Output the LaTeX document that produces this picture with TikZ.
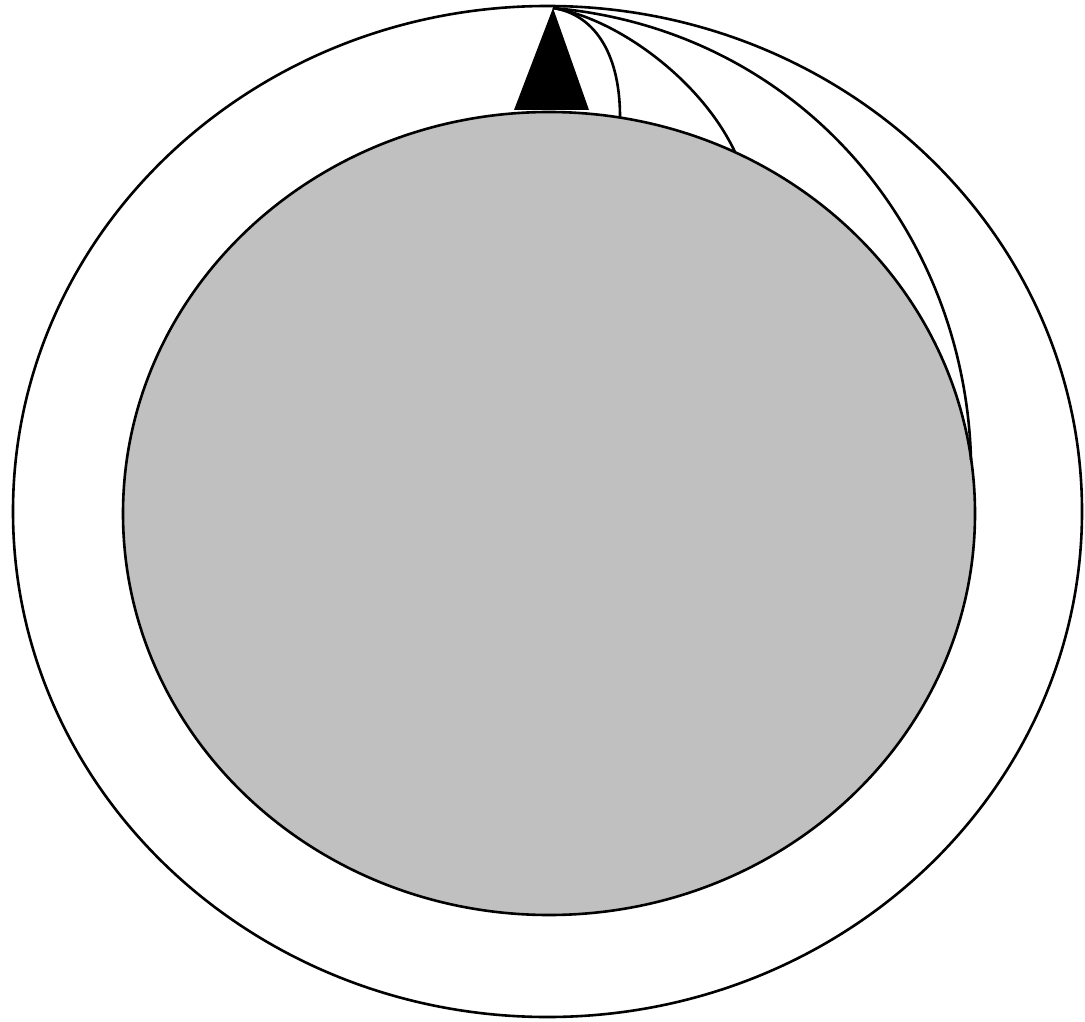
\documentclass[tikz,border=0pt]{standalone}
\definecolor{discgray}{HTML}{C0C0C0}
\begin{document}
\begin{tikzpicture}[x=0.5pt,y=-0.5pt,
  outline/.style={draw=black,line width=1.3pt},
  wire/.style={draw=black,line width=1.3pt}]
\useasboundingbox (0,0) rectangle (1085,1021);
\fill[white] (0,0) rectangle (1085,1021);
% outer ring
\draw[outline] (547.5,511.5) ellipse [x radius=534.5, y radius=505.5];
% inner grey disc
\draw[outline,fill=discgray] (549,513.5) ellipse [x radius=426, y radius=401.5];
% named points
\coordinate (apex) at (553,8);
\coordinate (e1) at (620,117);
\coordinate (e2) at (735,152);
\coordinate (e3) at (971,460);
% black wedge
\fill[black] (apex) -- (589,110) -- (514,110) -- cycle;
% curves from apex
\draw[wire] (apex) .. controls (592,14) and (620,50) .. (e1);
\draw[wire] (apex) .. controls (615,18) and (700,78) .. (e2);
\draw[wire] (apex) .. controls (800,30) and (965,230) .. (e3);
\end{tikzpicture}
\end{document}
